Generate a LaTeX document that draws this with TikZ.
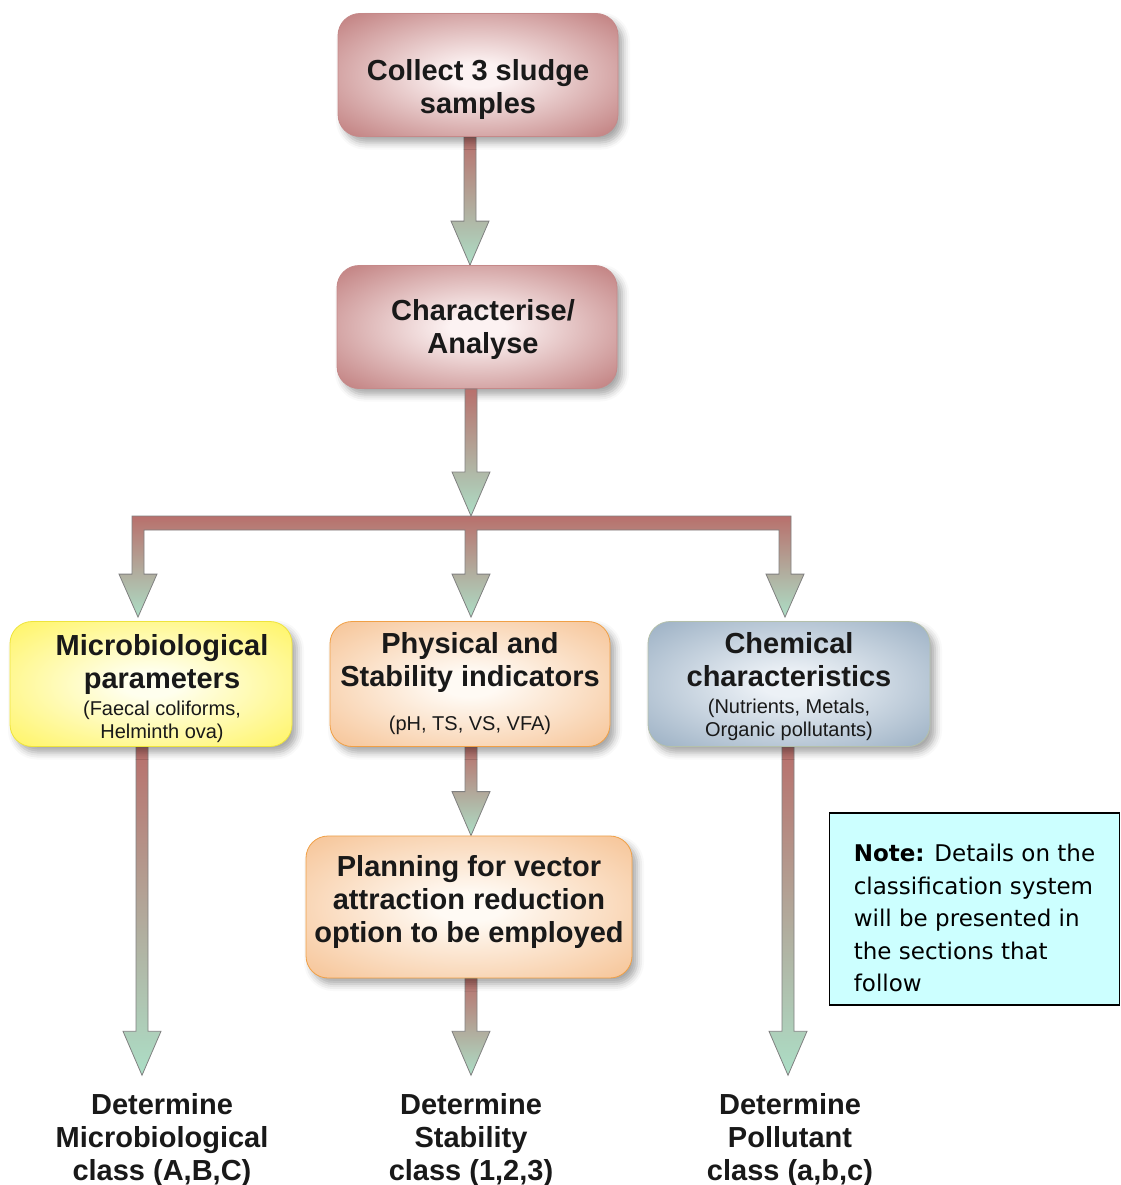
\documentclass[tikz,border=0pt]{standalone}
\usepackage{fontspec}
\setmainfont{Liberation Sans}
\newfontfamily\notefont{DejaVu Sans}
\usetikzlibrary{shapes, arrows, positioning, calc, shadows, shadows.blur}

\definecolor{roseout}{RGB}{183,108,108}
\definecolor{rosein}{RGB}{252,242,242}
\definecolor{yelout}{RGB}{255,242,70}
\definecolor{yelin}{RGB}{255,255,238}
\definecolor{yelline}{RGB}{238,228,60}
\definecolor{orgout}{RGB}{244,184,130}
\definecolor{orgin}{RGB}{255,250,244}
\definecolor{orgline}{RGB}{240,160,70}
\definecolor{bluout}{RGB}{138,162,185}
\definecolor{bluin}{RGB}{236,241,246}
\definecolor{bluline}{RGB}{180,192,170}
\definecolor{arrtop}{RGB}{184,112,108}
\definecolor{arrbot}{RGB}{172,222,198}
\definecolor{arrline}{RGB}{128,128,128}
\definecolor{notefill}{RGB}{204,255,255}

\pgfdeclareradialshading{roseglow}{\pgfpoint{0bp}{0bp}}{color(0bp)=(rosein); color(5bp)=(rosein); color(40bp)=(roseout); color(50bp)=(roseout)}
\pgfdeclareradialshading{yelglow}{\pgfpoint{0bp}{0bp}}{color(0bp)=(yelin); color(5bp)=(yelin); color(42bp)=(yelout); color(50bp)=(yelout)}
\pgfdeclareradialshading{orgglow}{\pgfpoint{0bp}{0bp}}{color(0bp)=(orgin); color(5bp)=(orgin); color(42bp)=(orgout); color(50bp)=(orgout)}
\pgfdeclareradialshading{bluglow}{\pgfpoint{0bp}{0bp}}{color(0bp)=(bluin); color(5bp)=(bluin); color(42bp)=(bluout); color(50bp)=(bluout)}

\pgfdeclarelayer{background}
\pgfsetlayers{background,main}

\newcommand{\smalltxt}[1]{{\fontsize{20}{23}\selectfont\mdseries #1}}
\newcommand{\padl}[1]{\hspace*{#1}}
% fat arrow from a box down to a point, shaft x taken from the end point
\newcommand{\fatarrow}[3][0pt]{%
  \path[fatarr] let \p1=(#2), \p2=(#3) in
    (\x2+#1-6pt,\y1) -- (\x2+#1-6pt,\y2+44pt) -- (\x2+#1-19pt,\y2+44pt) -- (\x2+#1,\y2)
    -- (\x2+#1+19pt,\y2+44pt) -- (\x2+#1+6pt,\y2+44pt) -- (\x2+#1+6pt,\y1) -- cycle;}

\tikzset{
  stepbox/.style={rounded corners=22pt, align=center, shade, text=black!90,
    font=\fontsize{29}{33}\selectfont\bfseries, line width=0.8pt,
    blur shadow={shadow xshift=5pt, shadow yshift=-6pt, shadow blur radius=7pt, shadow opacity=35}},
  rosebox/.style={stepbox, shading=roseglow, draw=roseout!80, minimum width=280pt, minimum height=123pt},
  yelbox/.style={stepbox, shading=yelglow, draw=yelline, minimum width=282pt, minimum height=125pt},
  orgbox/.style={stepbox, shading=orgglow, draw=orgline, minimum width=280pt, minimum height=125pt},
  blubox/.style={stepbox, shading=bluglow, draw=bluline, minimum width=282pt, minimum height=125pt},
  clslabel/.style={align=center, inner ysep=18pt, text=black!90, font=\fontsize{29}{33}\selectfont\bfseries},
  notebox/.style={draw=black, line width=1.5pt, fill=notefill, align=left,
    minimum width=290pt, minimum height=192pt, font=\notefont\fontsize{23}{32.5}\selectfont},
  fatarr/.style={draw=arrline, line width=0.8pt, top color=arrtop, bottom color=arrbot, line join=miter}
}

\begin{document}
\begin{tikzpicture}[x=1pt,y=-1pt]
	\useasboundingbox (0,0) rectangle (1120,1185);

	%boxes
	\draw (478,75) node [rosebox] (collect) {\rule{0pt}{51pt}Collect 3 sludge\\samples};
	\draw (477,327) node [rosebox] (analyse) {\padl{12pt}\rule{0pt}{26pt}Characterise/\\\padl{12pt}Analyse};
	\draw (151,684) node [yelbox] (micro) {\padl{22pt}\rule{0pt}{31pt}Microbiological\\\padl{22pt}parameters\\[-6pt]\padl{22pt}\smalltxt{(Faecal coliforms,}\\[-10pt]\padl{22pt}\smalltxt{Helminth ova)}};
	\draw (470,684) node [orgbox] (phys) {Physical and\\Stability indicators\\[11pt]\smalltxt{(pH, TS, VS, VFA)}};
	\draw (789,684) node [blubox] (chem) {\rule{0pt}{27pt}Chemical\\characteristics\\[-6pt]\smalltxt{(Nutrients, Metals,}\\[-10pt]\smalltxt{Organic pollutants)}};
	\draw (469,907) node [orgbox, minimum width=326pt, minimum height=142pt] (plan) {Planning for vector\\attraction reduction\\option to be employed\rule[-16pt]{0pt}{0pt}};
	\draw (974.5,909) node [notebox] (note) {\rule{0pt}{36pt}\textbf{Note:} Details on the\\classification system\\will be presented in\\the sections that\\follow};

	%labels
	\draw (162,1140) node [clslabel] (microcls) {Determine\\Microbiological\\class (A,B,C)};
	\draw (471,1140) node [clslabel] (stabcls) {Determine\\Stability\\class (1,2,3)};
	\draw (790,1140) node [clslabel] (pollcls) {Determine\\Pollutant\\class (a,b,c)};
	\coordinate (bar) at (471,516);

	%arrows
	\begin{pgfonlayer}{background}
	\fatarrow[-7pt]{collect.south}{analyse.north}
	\fatarrow[-20pt]{micro.south}{microcls.north}
	\fatarrow[2pt]{phys.south}{plan.north}
	\fatarrow{plan.south}{stabcls.north}
	\fatarrow[-2pt]{chem.south}{pollcls.north}
	\end{pgfonlayer}
	% split bar with three heads
	\path[fatarr] let \p0=(bar), \p1=(micro.north), \p2=(phys.north), \p3=(chem.north) in
		(\x1-19pt,\y0) -- (\x3+2pt,\y0) -- (\x3+2pt,\y1+47pt) -- (\x3+15pt,\y1+47pt) -- (\x3-4pt,\y1+4pt)
		-- (\x3-23pt,\y1+47pt) -- (\x3-10pt,\y1+47pt) -- (\x3-10pt,\y0-14pt)
		-- (\x2+7pt,\y0-14pt) -- (\x2+7pt,\y1+47pt) -- (\x2+20pt,\y1+47pt) -- (\x2+1pt,\y1+4pt)
		-- (\x2-18pt,\y1+47pt) -- (\x2-5pt,\y1+47pt) -- (\x2-5pt,\y0-14pt)
		-- (\x1-7pt,\y0-14pt) -- (\x1-7pt,\y1+47pt) -- (\x1+6pt,\y1+47pt) -- (\x1-13pt,\y1+4pt)
		-- (\x1-32pt,\y1+47pt) -- (\x1-19pt,\y1+47pt) -- cycle;
	\fatarrow{analyse.south}{bar}
\end{tikzpicture}
\end{document}
